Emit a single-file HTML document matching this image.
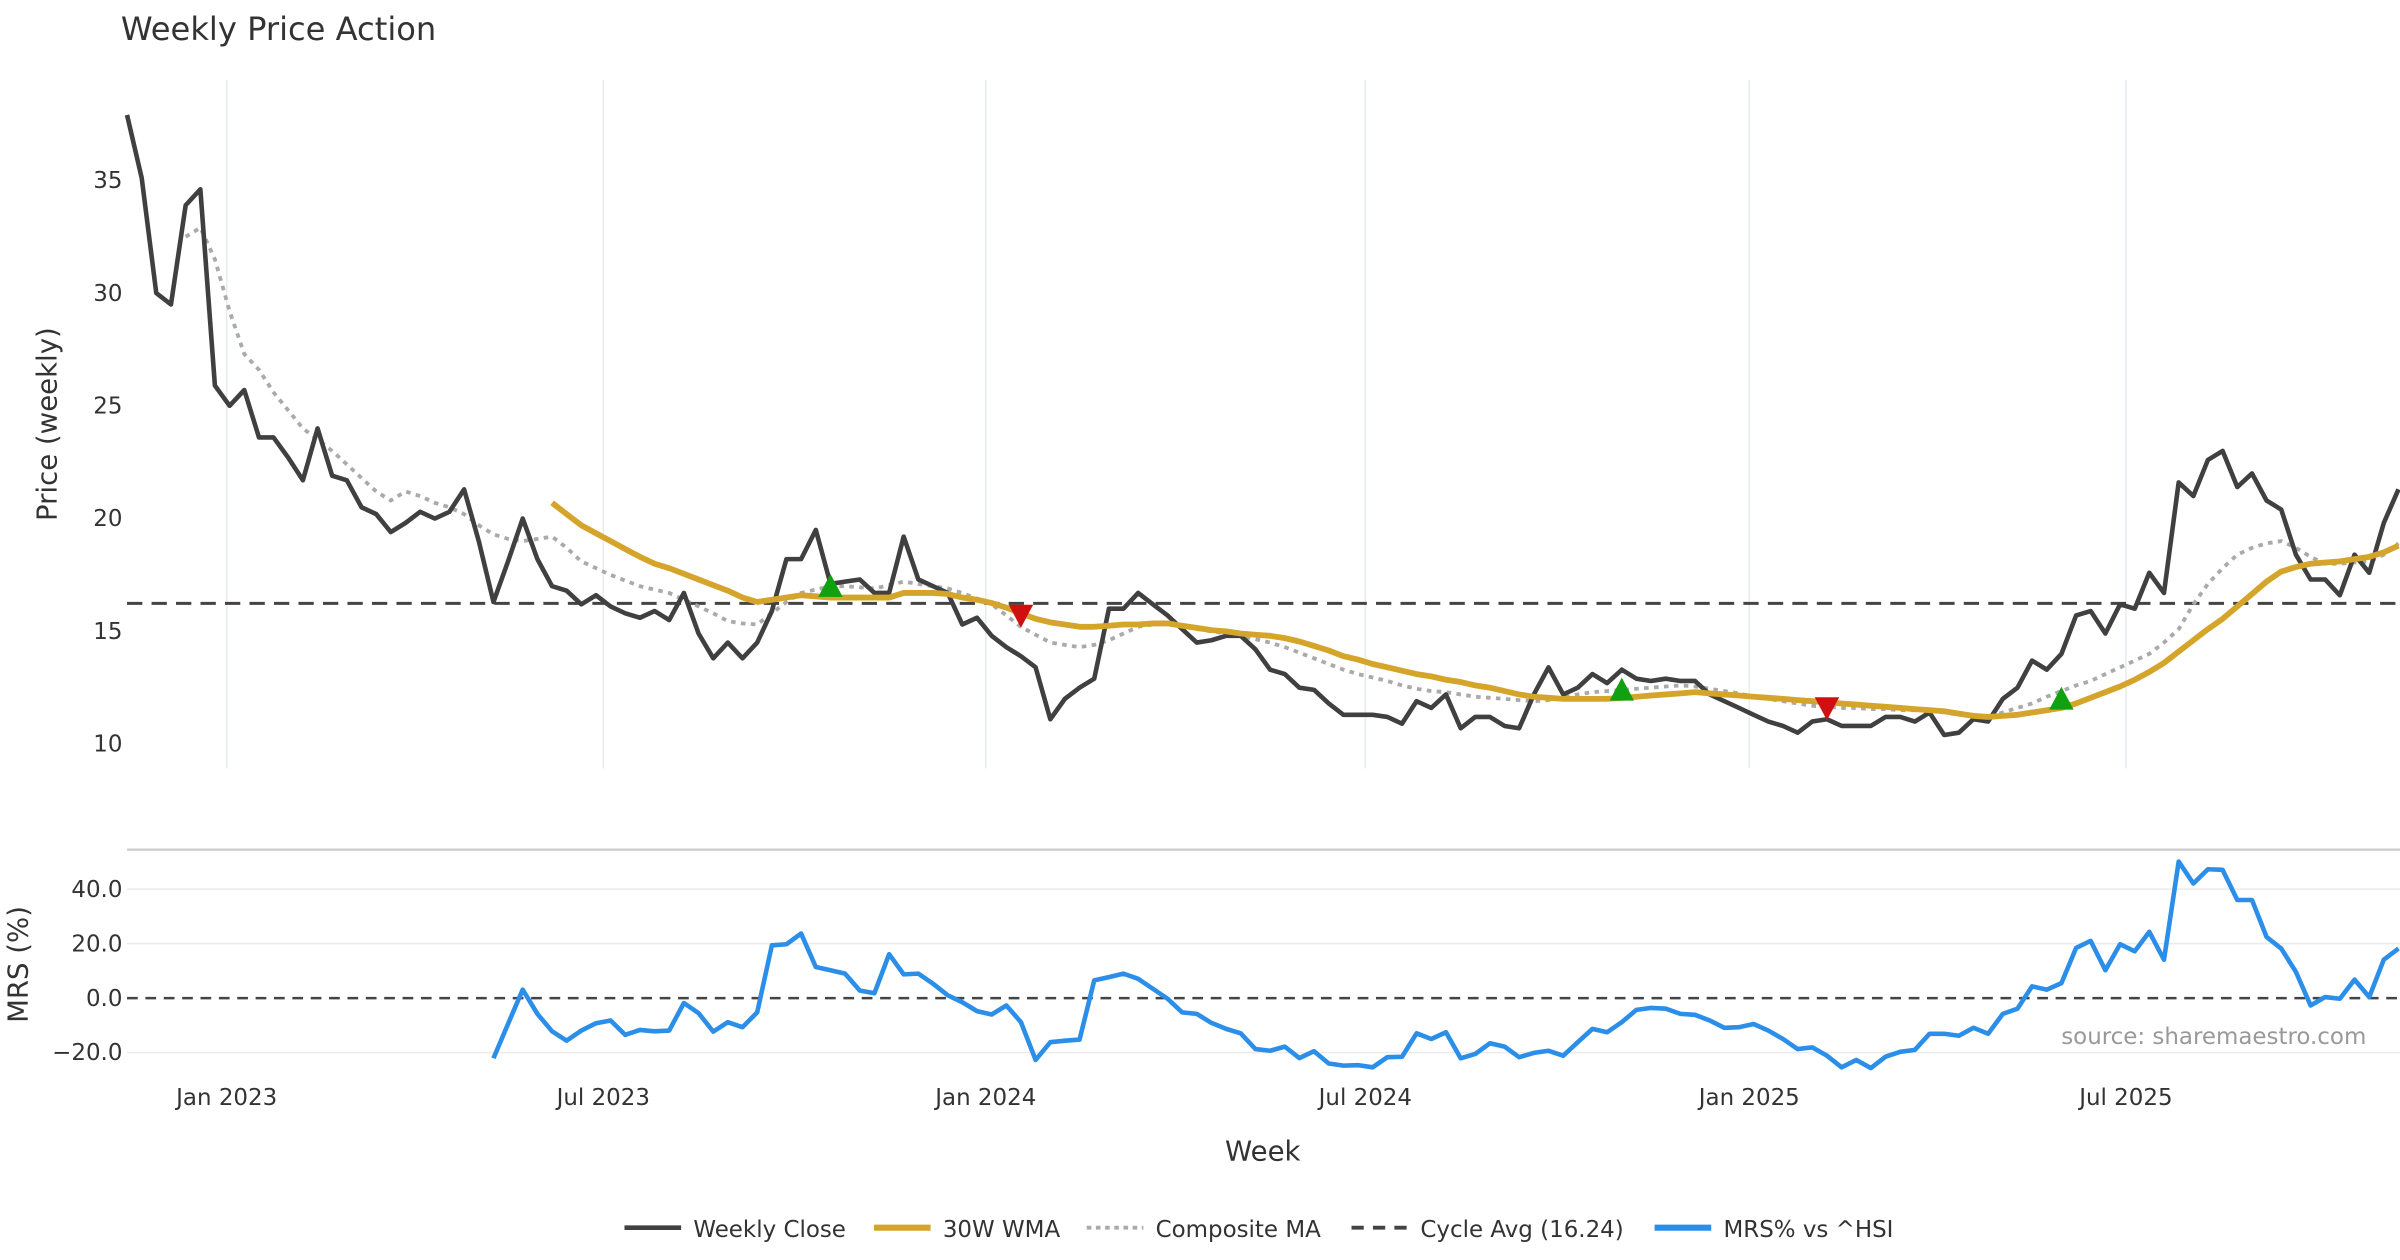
<!DOCTYPE html>
<html><head><meta charset="utf-8"><style>
html,body{margin:0;padding:0;background:#fff;}
svg{display:block;font-family:"DejaVu Sans","Liberation Sans",sans-serif;}
</style></head><body>
<svg id="chart" width="2400" height="1260" viewBox="0 0 1568 823" xmlns="http://www.w3.org/2000/svg">
<rect width="1568" height="823" fill="#fff"/>
<text x="79" y="26" font-size="21" fill="#333">Weekly Price Action</text>
<text transform="translate(37,277) rotate(-90)" text-anchor="middle" font-size="18" fill="#333">Price (weekly)</text>
<text transform="translate(18,630) rotate(-90)" text-anchor="middle" font-size="18" fill="#333">MRS (%)</text>
<text x="825" y="758" text-anchor="middle" font-size="18" fill="#333">Week</text>
<text x="1546" y="682" text-anchor="end" font-size="15" fill="#999">source: sharemaestro.com</text>
<line x1="83" x2="1568" y1="555" y2="555" stroke="#ccc" stroke-width="1.5"/>
<g id="grid"></g><g id="series"></g><g id="legend"></g>
</svg>
<script>
const close=[37.9,35.1,30.0,29.5,33.9,34.6,25.9,25.0,25.7,23.6,23.6,22.7,21.7,24.0,21.9,21.7,20.5,20.2,19.4,19.8,20.3,20.0,20.3,21.3,19.0,16.3,18.1,20.0,18.2,17.0,16.8,16.2,16.6,16.1,15.8,15.6,15.9,15.5,16.7,14.9,13.8,14.5,13.8,14.5,15.9,18.2,18.2,19.5,17.1,17.2,17.3,16.7,16.7,19.2,17.3,17.0,16.7,15.3,15.6,14.8,14.3,13.9,13.4,11.1,12.0,12.5,12.9,16.0,16.0,16.7,16.2,15.7,15.1,14.5,
14.6,14.8,14.8,14.2,13.3,13.1,12.5,12.4,11.8,11.3,11.3,11.3,11.2,10.9,11.9,11.6,12.2,10.7,11.2,11.2,10.8,10.7,12.2,13.4,12.2,12.5,13.1,12.7,13.3,12.9,12.8,12.9,12.8,12.8,12.2,11.9,11.6,11.3,11.0,10.8,10.5,11.0,11.1,10.8,10.8,10.8,11.2,11.2,11.0,11.4,10.4,10.5,11.1,11.0,12.0,12.5,13.7,13.3,14.0,15.7,15.9,14.9,16.2,16.0,17.6,16.7,21.6,21.0,22.6,23.0,21.4,22.0,20.8,20.4,18.4,17.3,17.3,16.6,18.4,17.6,19.8,21.3];
const wmaStart=29;
const wma=[20.7,20.2,19.7,19.35,19.0,18.65,18.3,18.0,17.8,17.55,17.3,17.05,16.8,16.5,16.3,16.4,16.5,16.6,16.55,16.5,16.5,16.5,16.5,16.5,16.7,16.7,16.7,16.65,16.5,16.4,16.25,16.05,15.8,15.55,15.4,15.3,15.2,15.2,15.25,15.3,15.3,15.35,15.35,15.25,15.15,15.05,15.0,14.9,14.85,14.8,14.7,14.55,14.35,14.15,13.9,13.75,13.55,13.4,13.25,13.1,13.0,12.85,12.75,12.6,12.5,12.35,12.2,12.1,12.05,12.0,12.0,12.0,12.0,12.05,12.1,12.15,12.2,12.25,12.3,12.25,12.2,12.15,12.1,12.05,12.0,11.95,11.9,11.85,11.8,11.75,11.7,11.65,11.6,11.55,11.5,11.45,11.35,11.25,11.2,11.25,11.3,11.4,11.5,11.6,11.8,12.05,12.3,12.55,12.85,13.2,13.6,14.1,14.6,15.1,15.55,16.1,16.65,17.2,17.65,17.85,18.0,18.05,18.1,18.2,18.3,18.5,18.8];
const compStart=4;
const composite=[32.5,32.9,31.5,29.2,27.3,26.6,25.6,24.8,24.0,23.5,23.0,22.4,21.8,21.2,20.8,21.2,21.0,20.7,20.5,20.2,19.7,19.3,19.1,19.0,19.1,19.2,18.7,18.1,17.8,17.5,17.25,17.0,16.85,16.7,16.4,16.1,15.8,15.45,15.35,15.3,15.8,16.3,16.7,16.85,17.0,17.0,16.95,16.9,17.05,17.2,17.1,17.0,16.9,16.7,16.45,16.2,15.7,15.2,14.85,14.5,14.4,14.3,14.4,14.6,14.9,15.2,15.3,15.3,15.25,15.1,15.0,14.9,14.8,14.65,14.5,14.3,14.05,13.8,13.55,13.3,13.1,12.95,12.8,12.6,12.45,12.35,12.3,12.2,12.1,12.05,12.0,11.95,11.9,11.95,12.05,12.2,12.3,12.35,12.4,12.45,12.5,12.55,12.6,12.55,12.45,12.35,12.25,12.1,12.0,11.9,11.8,11.7,11.65,11.6,11.6,11.55,11.55,11.5,11.5,11.5,11.4,11.3,11.25,11.2,11.4,11.6,11.8,12.1,12.35,12.6,12.8,13.1,13.4,13.7,14.0,14.5,15.1,16.2,17.1,17.8,18.4,18.7,18.9,19.0,18.7,18.3,18.0,18.0,18.05,18.1,18.4,18.9];
const mrsStart=25;
const mrs=[-22.1,-9.5,3.1,-5.8,-12.2,-15.6,-11.9,-9.2,-8.2,-13.5,-11.7,-12.2,-11.9,-1.8,-5.5,-12.3,-8.8,-10.7,-5.2,19.4,19.8,23.7,11.4,10.2,9.0,2.8,1.8,16.1,8.7,9.0,5.3,1.0,-1.5,-4.8,-6.0,-2.7,-8.8,-22.7,-16.2,-15.6,-15.2,6.5,7.7,9.0,7.1,3.4,-0.2,-5.2,-5.8,-9.1,-11.3,-12.9,-18.7,-19.3,-17.8,-22.0,-19.5,-24.0,-24.8,-24.6,-25.4,-21.7,-21.5,-12.9,-15.0,-12.5,-22.1,-20.5,-16.6,-17.8,-21.7,-20.1,-19.3,-21.1,-16.2,-11.3,-12.5,-8.8,-4.3,-3.6,-3.9,-5.8,-6.1,-8.2,-10.9,-10.7,-9.5,-11.9,-15.0,-18.7,-18.1,-21.1,-25.4,-22.7,-25.7,-21.5,-19.7,-19.0,-13.1,-13.1,-13.8,-10.9,-13.1,-5.8,-3.9,4.3,3.1,5.5,18.4,21.0,10.2,19.8,17.2,24.3,14.1,50.1,42.1,47.3,47.1,36.0,36.0,22.5,18.2,9.6,-2.7,0.4,-0.2,6.8,0.4,14.1,18.2];
const cycleAvg=16.24;
const buyIdx=[48,102,132];
const buyVal=[17.0,12.4,12.0];
const sellIdx=[61,116];
const sellVal=[15.7,11.6];
const dateLabels=["Jan 2023","Jul 2023","Jan 2024","Jul 2024","Jan 2025","Jul 2025"];
const dateIdx=[6.8,32.5,58.6,84.5,110.7,136.4];
const priceTicks=[10,15,20,25,30,35];
const mrsTicks=[40,20,0,-20];

const NS="http://www.w3.org/2000/svg";
const N=close.length;
const X0=83,X1=1567;
function xs(i){return X0+i*(X1-X0)/(N-1);}
function yp(v){return 486-(v-10)*14.73;}
function ym(v){return 652-v*1.78;}
function mk(tag,attrs,parent){const e=document.createElementNS(NS,tag);for(const k in attrs)e.setAttribute(k,attrs[k]);parent.appendChild(e);return e;}
const grid=document.getElementById('grid'),ser=document.getElementById('series'),leg=document.getElementById('legend');

dateIdx.forEach((d,k)=>{
  const g=mk('line',{x1:xs(d),x2:xs(d),y1:52,y2:502,stroke:'#e8ecf0','stroke-width':1},grid);
  
  
  const t=mk('text',{x:xs(d),y:722,'text-anchor':'middle','font-size':15,fill:'#333'},grid);
  t.textContent=dateLabels[k];
  
  
});
priceTicks.forEach(v=>{
  const t=mk('text',{x:80,y:yp(v)+5,'text-anchor':'end','font-size':15,fill:'#333'},grid);
  t.textContent=v;
  
  
});
mrsTicks.forEach(v=>{
  if(v!==0){const l=mk('line',{x1:83,x2:1568,y1:ym(v),y2:ym(v),stroke:'#ebebeb','stroke-width':1},grid);
  
  }
  const t=mk('text',{x:80,y:ym(v)+5,'text-anchor':'end','font-size':15,fill:'#333'},grid);
  t.textContent=(v<0?'\u2212'+Math.abs(v).toFixed(1):v.toFixed(1));
  
  
});
const z=mk('line',{x1:83,x2:1568,y1:ym(0),y2:ym(0),stroke:'#444','stroke-width':1.6,'stroke-dasharray':'7 5'},grid);



function path(arr,start,yf){return arr.map((v,i)=>(i?'L':'M')+xs(start+i).toFixed(1)+','+yf(v).toFixed(1)).join('');}
const ca=mk('line',{x1:83,x2:1568,y1:yp(cycleAvg),y2:yp(cycleAvg),stroke:'#444','stroke-width':2,'stroke-dasharray':'10 6'},ser);


const p1=mk('path',{d:path(composite,compStart,yp),fill:'none',stroke:'#aaa','stroke-width':2.5,'stroke-dasharray':'3 3.5'},ser);


const p2=mk('path',{d:path(close,0,yp),fill:'none',stroke:'#404040','stroke-width':3,'stroke-linejoin':'round'},ser);


const p3=mk('path',{d:path(wma,wmaStart,yp),fill:'none',stroke:'#d4a52a','stroke-width':3.8,'stroke-linejoin':'round'},ser);


const p4=mk('path',{d:path(mrs,mrsStart,ym),fill:'none',stroke:'#2b8ee8','stroke-width':3,'stroke-linejoin':'round'},ser);


buyIdx.forEach((i,k)=>{const x=xs(i),y=yp(buyVal[k]);
  const t=mk('polygon',{points:`${x-8},${y+7} ${x+8},${y+7} ${x},${y-8}`,fill:'#10a010'},ser);
  
  });
sellIdx.forEach((i,k)=>{const x=xs(i),y=yp(sellVal[k]);
  const t=mk('polygon',{points:`${x-8},${y-7} ${x+8},${y-7} ${x},${y+8}`,fill:'#d01010'},ser);
  
  });

const items=[['Weekly Close','#404040',3,'',408],['30W WMA','#d4a52a',4,'',571],['Composite MA','#aaa',2.5,'3 3',710],['Cycle Avg (16.24)','#444',2.5,'8 6',883],['MRS% vs ^HSI','#2b8ee8',4,'',1081]];
items.forEach(it=>{
  const g=mk('g',{},leg);
  
  
  mk('line',{x1:it[4],x2:it[4]+37,y1:802,y2:802,stroke:it[1],'stroke-width':it[2],'stroke-dasharray':it[3]},g);
  const t=mk('text',{x:it[4]+45,y:808,'font-size':15,fill:'#333'},g);
  t.textContent=it[0];
});
</script>
</body></html>
